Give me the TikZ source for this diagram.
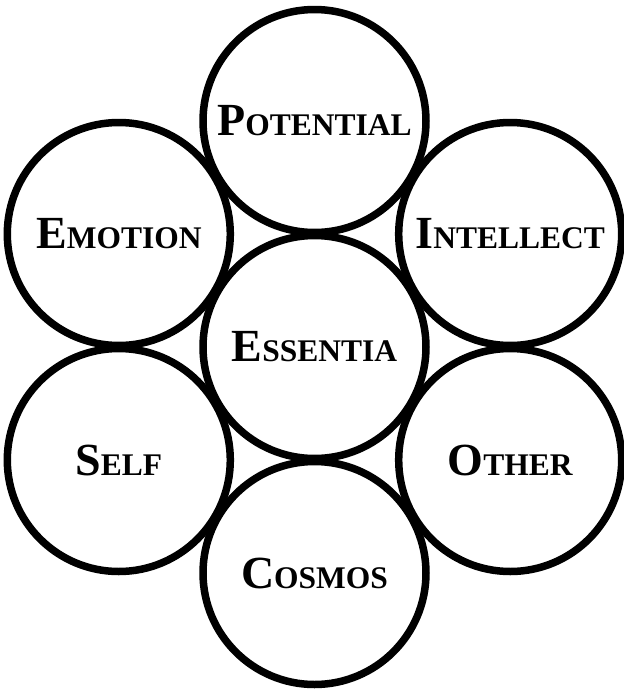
\documentclass[tikz,border=0pt]{standalone}
\usepackage{fontspec}
\setmainfont{Liberation Serif}
\newcommand{\fsc}[2]{{\fontsize{46}{46}\selectfont #1}{\fontsize{31.5}{31.5}\selectfont #2}}
\begin{document}
\begin{tikzpicture}[x=1pt,y=-1pt,
  circ/.style={circle, draw=black, line width=7.5pt, minimum size=223pt, inner sep=0pt, font=\bfseries}]
\useasboundingbox (0,0) rectangle (624,691);
\node[circ] (ess) at (314.5,347) {\fsc{E}{SSENTIA}};
\node[circ] (pot) at (314.5,121) {\fsc{P}{OTENTIAL}};
\node[circ] (int) at (510.2,234) {\fsc{I}{NTELLECT}};
\node[circ] (oth) at (510.2,460) {\fsc{O}{THER}};
\node[circ] (cos) at (314.5,573) {\fsc{C}{OSMOS}};
\node[circ] (slf) at (118.8,460) {\fsc{S}{ELF}};
\node[circ] (emo) at (118.8,234) {\fsc{E}{MOTION}};
\end{tikzpicture}
\end{document}
